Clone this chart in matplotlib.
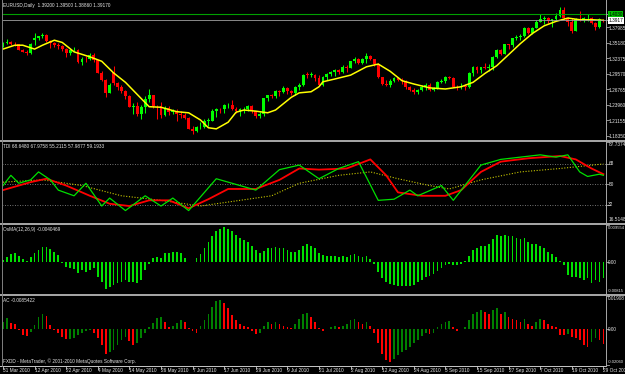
import matplotlib
matplotlib.use('Agg')
import matplotlib.pyplot as plt
import numpy as np
from matplotlib.transforms import blended_transform_factory as blend

# ---------------- data ----------------
dates = ['31 Mar 2010', '12 Apr 2010', '22 Apr 2010', '4 May 2010', '14 May 2010', '26 May 2010',
         '7 Jun 2010', '17 Jun 2010', '29 Jun 2010', '9 Jul 2010', '21 Jul 2010', '2 Aug 2010',
         '12 Aug 2010', '24 Aug 2010', '3 Sep 2010', '15 Sep 2010', '27 Sep 2010', '7 Oct 2010',
         '19 Oct 2010', '29 Oct 2010']
date_bars = [0, 8, 16, 24, 32, 40, 48, 56, 64, 72, 80, 88, 96, 104, 112, 120, 128, 136, 144, 152]

opens = [1.3490,1.3510,1.3535,1.3495,1.3485,1.3385,1.3355,1.3335,1.3560,1.3605,
1.3635,1.3650,1.3540,1.3505,1.3475,1.3450,1.3405,1.3325,1.3380,1.3385,
1.3175,1.3225,1.3220,1.3295,1.3200,1.2975,1.2840,1.2615,1.2990,1.2795,
1.2710,1.2635,1.2545,1.2360,1.2370,1.2220,1.2350,1.2505,1.2570,1.2370,
1.2365,1.2210,1.2345,1.2270,1.2285,1.2225,1.2215,1.2155,1.1965,1.1925,
1.1985,1.1990,1.2105,1.2110,1.2285,1.2325,1.2310,1.2390,1.2390,1.2325,
1.2290,1.2310,1.2320,1.2375,1.2280,1.2200,1.2230,1.2515,1.2565,1.2560,
1.2635,1.2620,1.2700,1.2640,1.2615,1.2720,1.2745,1.2940,1.2935,1.2940,
1.2870,1.2750,1.2895,1.2945,1.2985,1.3025,1.2985,1.3080,1.3055,1.3180,
1.3220,1.3155,1.3215,1.3275,1.3220,1.3135,1.2900,1.2770,1.2750,1.2830,
1.2885,1.2835,1.2830,1.2710,1.2665,1.2620,1.2660,1.2720,1.2760,1.2660,
1.2690,1.2810,1.2815,1.2895,1.2880,1.2720,1.2710,1.2740,1.2710,1.2970,
1.3085,1.3015,1.3070,1.3050,1.3080,1.3260,1.3385,1.3320,1.3490,1.3480,
1.3595,1.3610,1.3635,1.3785,1.3690,1.3785,1.3890,1.3940,1.3955,1.3905,
1.3935,1.3990,1.4110,1.3970,1.3885,1.3730,1.3950,1.3930,1.3960,1.3970,
1.3870,1.3800,1.3920]
highs = [1.3535,1.3575,1.3545,1.3535,1.3495,1.3410,1.3380,1.3505,1.3690,1.3640,
1.3690,1.3665,1.3555,1.3520,1.3505,1.3470,1.3415,1.3405,1.3440,1.3395,
1.3255,1.3275,1.3335,1.3325,1.3205,1.3005,1.2860,1.2780,1.3095,1.2805,
1.2745,1.2670,1.2570,1.2430,1.2440,1.2390,1.2550,1.2675,1.2570,1.2395,
1.2440,1.2375,1.2375,1.2315,1.2320,1.2285,1.2255,1.2180,1.2005,1.2005,
1.2085,1.2130,1.2150,1.2325,1.2345,1.2335,1.2410,1.2430,1.2475,1.2355,
1.2330,1.2350,1.2385,1.2385,1.2285,1.2265,1.2525,1.2575,1.2595,1.2670,
1.2665,1.2725,1.2710,1.2655,1.2730,1.2790,1.2955,1.2985,1.2980,1.2955,
1.2935,1.2910,1.2960,1.3010,1.3045,1.3035,1.3110,1.3110,1.3190,1.3265,
1.3235,1.3235,1.3335,1.3285,1.3230,1.3140,1.2905,1.2850,1.2860,1.2900,
1.2890,1.2870,1.2835,1.2730,1.2695,1.2685,1.2750,1.2780,1.2780,1.2720,
1.2820,1.2855,1.2910,1.2920,1.2895,1.2750,1.2780,1.2770,1.2985,1.3100,
1.3095,1.3085,1.3155,1.3125,1.3275,1.3410,1.3395,1.3500,1.3500,1.3600,
1.3660,1.3680,1.3790,1.3790,1.3800,1.3920,1.4030,1.3990,1.3975,1.3945,
1.4045,1.4160,1.4155,1.3985,1.3955,1.3970,1.4080,1.3985,1.4040,1.3975,
1.3885,1.3965,1.3950]
lows = [1.3440,1.3490,1.3475,1.3450,1.3375,1.3340,1.3290,1.3320,1.3480,1.3555,
1.3595,1.3525,1.3420,1.3435,1.3405,1.3370,1.3255,1.3295,1.3370,1.3155,
1.3115,1.3170,1.3205,1.3170,1.2965,1.2815,1.2530,1.2600,1.2745,1.2660,
1.2600,1.2505,1.2355,1.2235,1.2185,1.2145,1.2250,1.2445,1.2335,1.2145,
1.2160,1.2200,1.2205,1.2235,1.2110,1.2150,1.2130,1.1960,1.1875,1.1895,
1.1955,1.1970,1.2010,1.2105,1.2175,1.2245,1.2255,1.2345,1.2300,1.2250,
1.2200,1.2240,1.2290,1.2255,1.2150,1.2150,1.2195,1.2460,1.2520,1.2525,
1.2560,1.2605,1.2595,1.2570,1.2580,1.2665,1.2740,1.2875,1.2890,1.2825,
1.2745,1.2730,1.2840,1.2915,1.2910,1.2950,1.2975,1.2985,1.3050,1.3150,
1.3125,1.3130,1.3145,1.3195,1.3095,1.2880,1.2745,1.2735,1.2710,1.2800,
1.2830,1.2775,1.2685,1.2640,1.2585,1.2590,1.2650,1.2655,1.2650,1.2640,
1.2680,1.2790,1.2795,1.2860,1.2710,1.2660,1.2685,1.2655,1.2705,1.2920,
1.2975,1.2975,1.3035,1.3000,1.3030,1.3245,1.3295,1.3315,1.3410,1.3435,
1.3560,1.3560,1.3620,1.3665,1.3675,1.3775,1.3880,1.3855,1.3865,1.3795,
1.3915,1.3980,1.3935,1.3815,1.3690,1.3725,1.3910,1.3890,1.3915,1.3855,
1.3750,1.3780,1.3886]
closes = [1.3510,1.3535,1.3495,1.3485,1.3385,1.3355,1.3335,1.3485,1.3605,1.3635,
1.3650,1.3540,1.3505,1.3475,1.3450,1.3405,1.3325,1.3380,1.3385,1.3175,
1.3225,1.3220,1.3295,1.3200,1.2975,1.2840,1.2615,1.2750,1.2795,1.2710,
1.2635,1.2545,1.2360,1.2370,1.2220,1.2350,1.2505,1.2570,1.2370,1.2365,
1.2210,1.2345,1.2270,1.2285,1.2225,1.2215,1.2155,1.1965,1.1925,1.1985,
1.1990,1.2105,1.2110,1.2285,1.2325,1.2310,1.2390,1.2390,1.2325,1.2290,
1.2310,1.2320,1.2375,1.2280,1.2200,1.2230,1.2515,1.2565,1.2560,1.2635,
1.2620,1.2700,1.2640,1.2615,1.2720,1.2745,1.2940,1.2935,1.2940,1.2870,
1.2750,1.2895,1.2945,1.2985,1.3025,1.2985,1.3080,1.3055,1.3180,1.3220,
1.3155,1.3215,1.3275,1.3220,1.3135,1.2900,1.2770,1.2750,1.2830,1.2885,
1.2835,1.2830,1.2710,1.2665,1.2620,1.2660,1.2720,1.2760,1.2660,1.2690,
1.2810,1.2815,1.2895,1.2880,1.2720,1.2710,1.2740,1.2710,1.2970,1.3085,
1.3015,1.3070,1.3050,1.3080,1.3260,1.3385,1.3320,1.3490,1.3480,1.3595,
1.3610,1.3635,1.3785,1.3690,1.3785,1.3890,1.3940,1.3955,1.3905,1.3935,
1.3990,1.4110,1.3970,1.3885,1.3730,1.3950,1.3930,1.3960,1.3970,1.3870,
1.3800,1.3950,1.3917]

ma_bars = [0,3,5,8,10,13,15,18,22,25,28,31,34,37,40,44,47,50,52,54,57,59,61,64,67,69,73,75,78,80,81,84,88,92,95,98,101,104,108,112,116,119,122,125,128,131,134,137,140,143,146,149,152]
ma_vals = [1.340,1.347,1.347,1.340,1.347,1.356,1.352,1.335,1.326,1.318,1.297,1.280,1.258,1.236,1.235,1.227,1.225,1.212,1.198,1.196,1.208,1.226,1.230,1.228,1.225,1.230,1.253,1.261,1.263,1.272,1.281,1.286,1.293,1.308,1.313,1.300,1.283,1.277,1.270,1.268,1.272,1.280,1.296,1.310,1.330,1.350,1.368,1.382,1.390,1.396,1.393,1.393,1.392]

tdi_price_bars = [0,2,4,7,9,12,14,18,21,25,27,31,36,40,43,47,54,60,64,70,75,80,85,90,95,99,103,105,111,114,121,126,131,136,140,143,146,148,151,152]
tdi_price = [49,58,51,54,61,54,45,40,51,31,38,27,40,31,38,27,55,49,45,63,67,55,64,70,36,37,45,40,49,36,67,72,74,76,74,76,61,57,59,58]
tdi_signal_bars = [0,7,11,16,22,27,32,37,42,47,52,57,64,70,75,80,87,93,97,100,106,112,116,121,126,133,141,145,149,152]
tdi_signal = [45,52,55,49,40,33,31,36,36,29,37,46,46,54,64,63,64,72,58,43,40,40,45,61,70,73,75,72,64,59]
tdi_base_bars = [0,10,20,30,40,50,60,68,75,85,93,100,108,113,121,131,141,152]
tdi_base = [52,54,49,40,36,31,36,40,51,58,61,55,49,46,54,61,64,68]
tdi_levels = [68, 50, 32]

osma = [0.0005,0.0013,0.0020,0.0023,0.0015,0.0008,0.0002,0.0013,0.0023,0.0030,
0.0038,0.0038,0.0033,0.0025,0.0018,-0.0002,-0.0013,-0.0015,-0.0018,-0.0028,
-0.0020,-0.0025,-0.0020,-0.0015,-0.0038,-0.0051,-0.0069,-0.0064,-0.0059,-0.0054,
-0.0051,-0.0046,-0.0051,-0.0051,-0.0054,-0.0046,-0.0020,-0.0005,0.0010,0.0013,
0.0010,0.0023,0.0023,0.0025,0.0025,0.0023,0.0010,0.0001,-0.0001,0.0010,
0.0020,0.0035,0.0050,0.0065,0.0078,0.0085,0.0088,0.0085,0.0078,0.0070,
0.0062,0.0055,0.0050,0.0042,0.0030,0.0022,0.0028,0.0035,0.0035,0.0037,
0.0035,0.0035,0.0030,0.0025,0.0025,0.0030,0.0042,0.0045,0.0042,0.0035,
0.0022,0.0018,0.0016,0.0015,0.0015,0.0012,0.0015,0.0012,0.0018,0.0020,
0.0015,0.0012,0.0015,0.0008,-0.0005,-0.0025,-0.0042,-0.0052,-0.0055,-0.0058,
-0.0060,-0.0060,-0.0062,-0.0060,-0.0058,-0.0052,-0.0045,-0.0038,-0.0035,-0.0030,
-0.0022,-0.0015,-0.0008,-0.0004,-0.0008,-0.0008,-0.0004,0.0002,0.0015,0.0030,
0.0035,0.0040,0.0042,0.0045,0.0058,0.0068,0.0065,0.0070,0.0065,0.0065,
0.0060,0.0058,0.0060,0.0050,0.0045,0.0045,0.0042,0.0035,0.0025,0.0020,
0.0012,0.0003,-0.0008,-0.0033,-0.0038,-0.0038,-0.0040,-0.0046,-0.0040,-0.0054,
-0.0046,-0.0050,-0.0040]

ac = [0.0042,0.0063,0.0036,0.0029,-0.0005,-0.0035,-0.0040,-0.0017,0.0023,0.0070,
0.0090,0.0075,0.0023,-0.0006,-0.0023,-0.0046,-0.0058,-0.0055,-0.0052,-0.0035,
-0.0023,-0.0012,-0.0006,-0.0023,-0.0052,-0.0090,-0.0145,-0.0133,-0.0120,-0.0093,
-0.0064,-0.0046,-0.0070,-0.0090,-0.0081,-0.0052,-0.0023,0.0010,0.0035,0.0063,
0.0070,0.0042,0.0012,0.0020,0.0035,0.0052,0.0042,0.0006,-0.0012,-0.0023,
0.0020,0.0050,0.0090,0.0130,0.0160,0.0170,0.0150,0.0120,0.0080,0.0050,
0.0030,0.0020,0.0010,-0.0010,-0.0030,-0.0020,0.0020,0.0040,0.0030,0.0040,
0.0030,0.0020,0.0010,0.0005,0.0030,0.0060,0.0090,0.0095,0.0070,0.0040,
0.0005,-0.0010,0.0000,0.0010,0.0020,0.0010,0.0020,0.0030,0.0050,0.0060,
0.0040,0.0030,0.0040,0.0020,-0.0020,-0.0080,-0.0140,-0.0180,-0.0190,-0.0170,
-0.0150,-0.0130,-0.0120,-0.0100,-0.0080,-0.0060,-0.0040,-0.0020,-0.0030,-0.0020,
0.0010,0.0030,0.0040,0.0045,0.0010,-0.0010,0.0000,0.0010,0.0050,0.0090,
0.0100,0.0110,0.0100,0.0090,0.0110,0.0120,0.0090,0.0100,0.0070,0.0060,
0.0050,0.0040,0.0060,0.0030,0.0020,0.0040,0.0060,0.0050,0.0030,0.0020,
0.0010,-0.0035,-0.0035,-0.0030,-0.0045,-0.0052,-0.0063,-0.0092,-0.0104,-0.0075,
-0.0052,-0.0063,-0.0085]

main_ticks = [1.37985, 1.35180, 1.32375, 1.29570, 1.26765, 1.23960, 1.21155, 1.18350]
main_tick_labels = ['1.37985', '1.35180', '1.32375', '1.29570', '1.26765', '1.23960', '1.21155', '1.18350']
hline_green = 1.4030
hline_bid = 1.3917

title_main = 'EURUSD,Daily  1.39200 1.39500 1.38860 1.39170'
title_tdi = 'TDI 68.6480 67.9758 55.2115 57.9877 59.1933'
title_osma = 'OsMA(12,26,9) -0.0040469'
title_ac = 'AC -0.0085422'
footer = 'FXDD - MetaTrader, \u00a9 2001-2010 MetaQuotes Software Corp.'

# ---------------- figure ----------------
W, H = 625, 374
plt.rcParams['font.family'] = ['Liberation Sans', 'DejaVu Sans']
fig = plt.figure(figsize=(W / 100, H / 100), dpi=100)
fig.patch.set_facecolor('black')

XMIN, XMAX = -0.25, 152.66
X0, X1 = 2, 606
TXT = '#E6E6E6'
GRID = '#9A9A9A'
FS = 3.4


def panel(y0, y1, ylim):
    ax = fig.add_axes([X0 / W, 1 - y1 / H, (X1 - X0) / W, (y1 - y0) / H])
    ax.set_xlim(XMIN, XMAX)
    ax.set_ylim(*ylim)
    ax.axis('off')
    return ax


ax_main = panel(0, 140, (1.1759, 1.4286))
ax_tdi = panel(141.5, 222.5, (16.5148, 87.7374))
ax_osma = panel(224.5, 294, (-0.00815, 0.009554))
ax_ac = panel(296, 365, (-0.020602, 0.01908))

ov = fig.add_axes([0, 0, 1, 1])
ov.set_xlim(0, W)
ov.set_ylim(H, 0)
ov.axis('off')
ov.set_zorder(5)

n = len(closes)
xs = np.arange(n)
o = np.array(opens); h = np.array(highs); l = np.array(lows); c = np.array(closes)
up = c >= o
col = np.where(up, '#00FF00', '#FF0000')

# candles
ax_main.vlines(xs, l, h, colors=col, lw=0.75)
body = np.maximum(np.abs(c - o), 0.0007)
ax_main.bar(xs, body, bottom=np.minimum(o, c), width=0.72, color=col, linewidth=0)
ax_main.plot(ma_bars, ma_vals, color='#FFFF00', lw=1.1)
ax_main.axhline(hline_green, color='#00A000', lw=0.8)
ax_main.axhline(hline_bid, color='#A0A0A0', lw=0.6)

# TDI
for v in tdi_levels:
    ax_tdi.axhline(v, color=GRID, lw=0.6, ls=(0, (1, 2)))
ax_tdi.plot(tdi_base_bars, tdi_base, color='#C8C800', lw=0.8, ls=(0, (1, 1.5)))
ax_tdi.plot(tdi_signal_bars, tdi_signal, color='#FF0000', lw=1.3)
ax_tdi.plot(tdi_price_bars, tdi_price, color='#00E000', lw=0.9)

# OsMA
ax_osma.bar(xs, osma, width=0.45, color='#00E000', linewidth=0)

# AC
acv = np.array(ac)
ac_col = ['#008000'] + ['#008000' if acv[i] > acv[i - 1] else '#FF0000' for i in range(1, n)]
ax_ac.bar(xs, acv, width=0.45, color=ac_col, linewidth=0)

# frame lines
for y, lw in [(140.8, 1.4), (223.5, 1.4), (295.0, 1.4)]:
    ov.plot([0, W], [y, y], color='#A8A8A8', lw=lw, solid_capstyle='butt')
ov.plot([0, 606], [365.5, 365.5], color='#C8C8C8', lw=0.7)
ov.plot([606, 606], [0, 366], color='#A8A8A8', lw=0.7)
ov.plot([1.5, 1.5], [0, 366], color='#808080', lw=0.7)


def rlabel(ax, value, text, dy=0.0, box=None, tcolor=TXT, fs=FS):
    yd = ax.transData.transform((0, value))[1]
    ypx = H - yd + dy
    ov.plot([606, 608.5], [H - yd, H - yd], color='#A8A8A8', lw=0.6)
    kw = {}
    if box is not None:
        kw['bbox'] = dict(boxstyle='square,pad=0.15', fc=box, ec='none')
    ov.text(608.3, ypx, text, color=tcolor, fontsize=fs, ha='left', va='center', **kw)

for v, s in zip(main_ticks, main_tick_labels):
    rlabel(ax_main, v, s, dy=1.0)
rlabel(ax_main, hline_green, '1.4030', box='#00C000', tcolor='black')
rlabel(ax_main, hline_bid, '1.3917', box='#FFFFFF', tcolor='black')

rlabel(ax_tdi, 87.7374, '87.7374', dy=3.0)
for v in tdi_levels:
    rlabel(ax_tdi, v, str(v))
rlabel(ax_tdi, 16.5148, '16.5148', dy=-3.0)

rlabel(ax_osma, 0.009554, '0.009554', dy=3.5, fs=3.0)
rlabel(ax_osma, 0.0, '0.00')
rlabel(ax_osma, -0.00815, '-0.00815', dy=-3.5, fs=3.0)

rlabel(ax_ac, 0.01908, '0.01908', dy=3.0)
rlabel(ax_ac, 0.0, '0.00')
rlabel(ax_ac, -0.020602, '-0.02060', dy=-3.0, fs=3.0)

# titles
ov.text(3, 5.5, title_main, color=TXT, fontsize=FS, ha='left', va='center')
ov.text(3, 146.5, title_tdi, color=TXT, fontsize=FS, ha='left', va='center')
ov.text(3, 229.5, title_osma, color=TXT, fontsize=FS, ha='left', va='center')
ov.text(3, 301, title_ac, color=TXT, fontsize=FS, ha='left', va='center')
ov.text(3, 361, footer, color=TXT, fontsize=FS, ha='left', va='center')

# date axis
trd = blend(ax_ac.transData, ov.transData)
for b, s in zip(date_bars, dates):
    ov.plot([b, b], [365.5, 368.5], color='#C8C8C8', lw=0.6, transform=trd)
    ov.text(b, 370.3, s, color=TXT, fontsize=FS, ha='left', va='center', transform=trd, clip_on=False)

fig.savefig('out.png', dpi=100, facecolor='black')
